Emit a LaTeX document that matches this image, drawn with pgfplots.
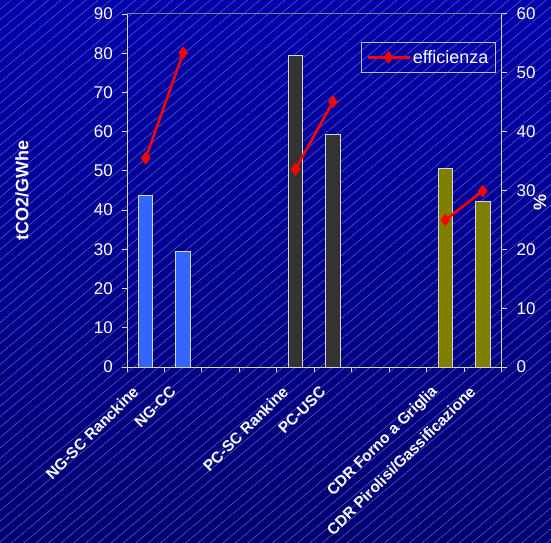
\documentclass[border=0pt]{standalone}
\usepackage{fontspec}
\setmainfont{Liberation Sans}
\usepackage{pgfplots}
\pgfplotsset{compat=1.18}
\usetikzlibrary{patterns.meta}
\definecolor{bgtop}{RGB}{0,0,172}
\definecolor{bgbot}{RGB}{0,0,112}
\definecolor{hatch}{RGB}{100,100,205}
\definecolor{ngblue}{RGB}{51,102,255}
\definecolor{pcgray}{RGB}{51,51,51}
\definecolor{cdrolive}{RGB}{128,128,0}
\definecolor{axgray}{RGB}{215,215,215}
\definecolor{legbox}{RGB}{190,190,230}
\newcommand\tickfont{\fontsize{17}{20}\selectfont}
\begin{document}
\begin{tikzpicture}
\useasboundingbox (0,0) rectangle (551pt,542pt);
\fill[top color=bgtop, bottom color=bgbot] (0,0) rectangle (551pt,542pt);
\fill[pattern={Lines[angle=40,distance=8pt,line width=0.5pt]}, pattern color=hatch] (0,0) rectangle (551pt,542pt);

\begin{axis}[
  at={(127pt,175pt)}, anchor=south west,
  width=374.5pt, height=353pt, scale only axis,
  xmin=0, xmax=10, ymin=0, ymax=90,
  axis x line*=bottom, axis y line*=left,
  axis line style={axgray, line width=1pt, -},
  ytick={0,10,...,90},
  xtick={0.5,1.5,4.5,5.5,8.5,9.5},
  xticklabels={NG-SC Ranckine, NG-CC, PC-SC Rankine, PC-USC, CDR Forno a Griglia, CDR Pirolisi/Gassificazione},
  minor xtick={0,1,...,10},
  tick align=outside,
  major tick length=5pt, minor tick length=5pt,
  tick style={axgray, line width=1pt},
  major x tick style={draw=none},
  /pgf/number format/assume math mode=true,
  yticklabel style={font=\tickfont, text=white, inner sep=0pt, xshift=-9pt},
  xticklabel style={font=\bfseries\fontsize{15.5}{18}\selectfont, text=white, xshift=-10pt, yshift=-17pt, rotate=45, anchor=east, inner sep=0pt},
  ylabel={tCO2/GWhe},
  every axis y label/.style={at={(rel axis cs:0,0.5)}, xshift=-105pt, rotate=90, anchor=center, font=\bfseries\fontsize{18}{21}\selectfont, text=white},
]
\addplot[ybar, bar width=14.5pt, fill=ngblue, draw=axgray, line width=1pt] coordinates {(0.5,43.7) (1.5,29.4)};
\addplot[ybar, bar width=14.5pt, fill=pcgray, draw=axgray, line width=1pt] coordinates {(4.5,79.3) (5.5,59.2)};
\addplot[ybar, bar width=14.5pt, fill=cdrolive, draw=axgray, line width=1pt] coordinates {(8.5,50.7) (9.5,42.1)};
\end{axis}

\begin{axis}[
  at={(127pt,175pt)}, anchor=south west,
  width=374.5pt, height=353pt, scale only axis,
  xmin=0, xmax=10, ymin=0, ymax=60,
  axis x line*=top, axis y line*=right,
  x axis line style={gray, line width=1pt, -},
  y axis line style={axgray, line width=1pt, -},
  xtick=\empty,
  ytick={0,10,...,60},
  tick align=outside,
  major tick length=5pt,
  tick style={axgray, line width=1pt},
  /pgf/number format/assume math mode=true,
  yticklabel style={font=\tickfont, text=white, inner sep=0pt, xshift=10pt},
  ylabel={\%},
  every axis y label/.style={at={(rel axis cs:1,0.465)}, xshift=38.5pt, rotate=90, anchor=center, font=\bfseries\fontsize{18}{21}\selectfont, text=white},
  legend style={at={(rel axis cs:1,1)}, anchor=north east, xshift=-5.5pt, yshift=-28pt, draw=legbox, line width=1pt, fill=none, text=white, font=\fontsize{18}{21}\selectfont, inner xsep=5pt, inner ysep=5.5pt},
  legend image code/.code={\draw[mark repeat=2,mark phase=2,#1] plot coordinates {(0pt,0pt) (21pt,0pt) (42pt,0pt)};},
]
\addplot[red, line width=2.5pt, mark=diamond*, mark size=6pt, mark options={solid, line width=0.5pt}] coordinates {(0.5,35.5) (1.5,53.4)};
\addlegendentry{efficienza}
\addplot[red, line width=2.5pt, mark=diamond*, mark size=6pt, mark options={solid, line width=0.5pt}, forget plot] coordinates {(4.5,33.6) (5.5,45.1)};
\addplot[red, line width=2.5pt, mark=diamond*, mark size=6pt, mark options={solid, line width=0.5pt}, forget plot] coordinates {(8.5,25.0) (9.5,29.9)};
\end{axis}
\end{tikzpicture}
\end{document}
